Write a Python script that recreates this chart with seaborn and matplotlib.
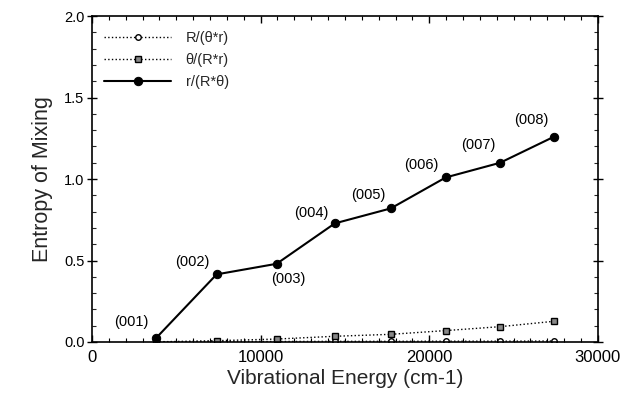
import numpy as np
import pandas as pd
import matplotlib
matplotlib.use("Agg")
import matplotlib.pyplot as plt
from matplotlib.ticker import MultipleLocator
import seaborn as sns

# ── Data ───────────────────────────────────────────────────────────────────────
energy = [3790, 7390, 10950, 14400, 17720, 20980, 24200, 27400]
r_over_Rtheta = [0.023, 0.415, 0.48, 0.728, 0.82, 1.01, 1.10, 1.26]
theta_over_Rr = [0.0, 0.008, 0.018, 0.035, 0.047, 0.07, 0.094, 0.127]
R_over_thetar = [0.002, 0.003, 0.003, 0.004, 0.004, 0.005, 0.005, 0.006]

state_labels = ["(001)", "(002)", "(003)", "(004)", "(005)", "(006)", "(007)", "(008)"]
label_x = [2350, 5960, 11640, 13000, 16380, 19540, 22900, 26060]
label_y = [0.125, 0.49, 0.385, 0.79, 0.90, 1.085, 1.21, 1.36]

series_names = ["R/(θ*r)", "θ/(R*r)", "r/(R*θ)"]

sns.set_style("ticks")
plt.rcParams["font.family"] = ["Liberation Sans", "DejaVu Sans"]

fig = plt.figure(figsize=(6.26, 4.04), dpi=100)
ax = fig.add_axes([0.147, 0.1535, 0.808, 0.8065])

# open circles, dotted
sns.lineplot(x=energy, y=R_over_thetar, ax=ax, color="black", linestyle=":",
             linewidth=1.0, marker="o", markersize=4, markerfacecolor="white",
             markeredgecolor="black", markeredgewidth=1.0, label=series_names[0])
# squares, dotted
sns.lineplot(x=energy, y=theta_over_Rr, ax=ax, color="black", linestyle=":",
             linewidth=1.0, marker="s", markersize=5, markerfacecolor="#888888",
             markeredgecolor="black", markeredgewidth=1.0, label=series_names[1])
# filled circles, solid
sns.lineplot(x=energy, y=r_over_Rtheta, ax=ax, color="black", linestyle="-",
             linewidth=1.5, marker="o", markersize=6, markerfacecolor="black",
             markeredgecolor="black", label=series_names[2])

for lbl, lx, ly in zip(state_labels, label_x, label_y):
    ax.text(lx, ly, lbl, fontsize=10.5, ha="center", va="center", color="black")

ax.set_xlim(0, 30000)
ax.set_ylim(0, 2.0)
ax.xaxis.set_major_locator(MultipleLocator(10000))
ax.xaxis.set_minor_locator(MultipleLocator(1000))
ax.yaxis.set_major_locator(MultipleLocator(0.5))
ax.yaxis.set_minor_locator(MultipleLocator(0.1))
ax.yaxis.set_major_formatter(matplotlib.ticker.FormatStrFormatter("%.1f"))

for side in ["top", "right", "left", "bottom"]:
    ax.spines[side].set_visible(True)
    ax.spines[side].set_linewidth(1.2)
    ax.spines[side].set_color("black")

ax.tick_params(axis="x", which="both", direction="in", top=True, labelsize=12,
               colors="black", pad=6)
ax.tick_params(axis="x", which="major", length=5, width=1)
ax.tick_params(axis="x", which="minor", length=3, width=0.8)
ax.tick_params(axis="y", which="major", direction="inout", right=True,
               length=7, width=1, labelsize=10.5, colors="black", pad=2)
ax.tick_params(axis="y", which="minor", direction="in", right=True,
               length=3, width=0.8)

ax.set_xlabel("Vibrational Energy (cm-1)", fontsize=15, labelpad=3)
ax.set_ylabel("Entropy of Mixing", fontsize=15.5, labelpad=8)

ax.legend(loc="upper left", bbox_to_anchor=(-0.005, 1.0), frameon=False,
          fontsize=10.5, handlelength=4.6, handletextpad=1.0, labelspacing=0.55,
          borderaxespad=0.6)

plt.savefig("out.png", dpi=100)
plt.close()
